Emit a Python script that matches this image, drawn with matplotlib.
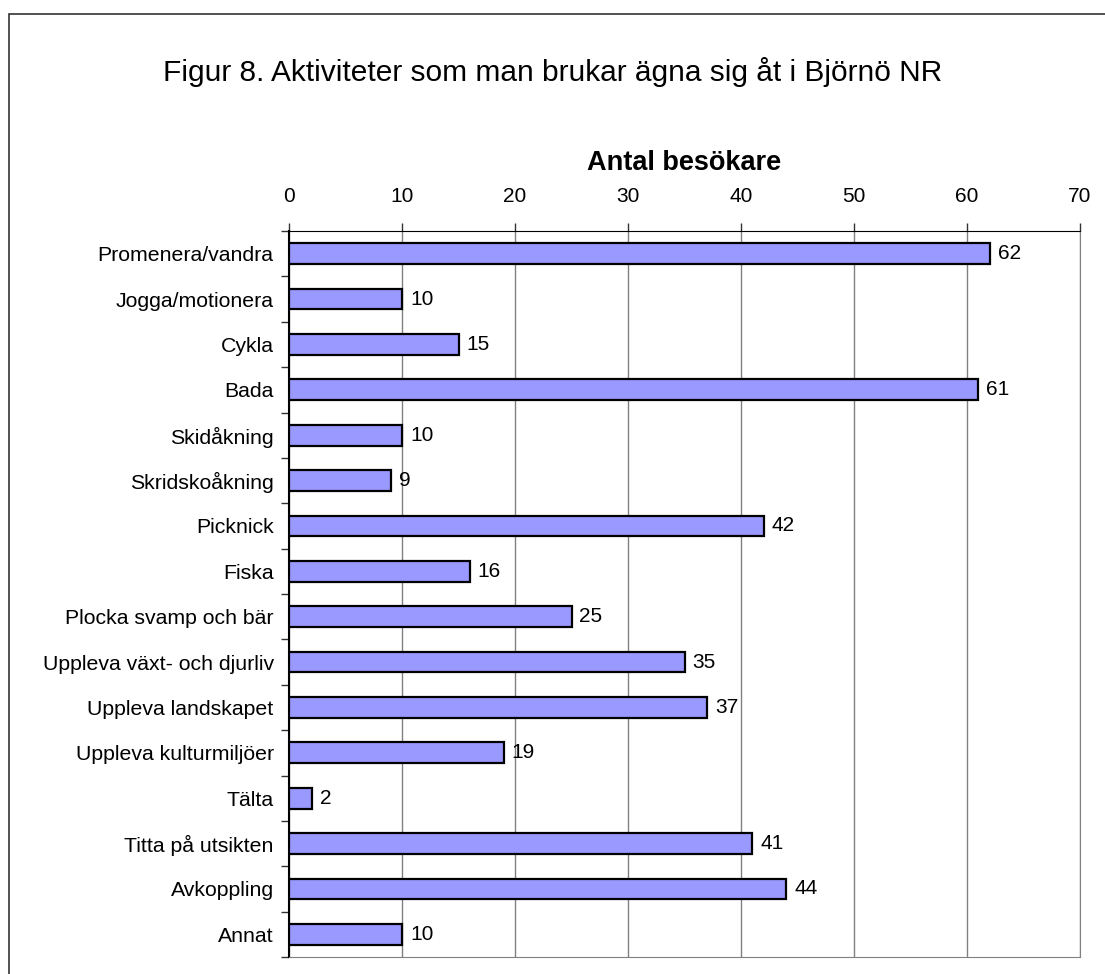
import matplotlib
matplotlib.use("Agg")
import matplotlib.pyplot as plt
from matplotlib.patches import Rectangle
import numpy as np

plt.rcParams["font.family"] = ["Liberation Sans", "DejaVu Sans"]

ACTIVITIES = ["Promenera/vandra", "Jogga/motionera", "Cykla", "Bada", "Skidåkning",
              "Skridskoåkning", "Picknick", "Fiska", "Plocka svamp och bär",
              "Uppleva växt- och djurliv", "Uppleva landskapet", "Uppleva kulturmiljöer",
              "Tälta", "Titta på utsikten", "Avkoppling", "Annat"]
VISITORS = [62, 10, 15, 61, 10, 9, 42, 16, 25, 35, 37, 19, 2, 41, 44, 10]
X_TICKS = [0, 10, 20, 30, 40, 50, 60, 70]

W, H = 1105, 974
fig = plt.figure(figsize=(W / 100, H / 100), dpi=100)
fig.patches.append(Rectangle((9 / W, -0.1), 1.2, 1 - 14 / H + 0.1, transform=fig.transFigure,
                             fill=False, edgecolor="#333333", linewidth=1.2))

ax = fig.add_axes([289 / W, 1 - 957 / H, (1080 - 289) / W, (957 - 231) / H])
y = np.arange(len(ACTIVITIES))
ax.barh(y, VISITORS, height=0.46, color="#9999ff", edgecolor="black", linewidth=1.6, zorder=3)
for yi, v in zip(y, VISITORS):
    ax.text(v + 0.7, yi, str(v), va="center", ha="left", fontsize=15)

ax.set_xlim(0, 70)
ax.set_ylim(len(ACTIVITIES) - 0.5, -0.5)
ax.set_xticks(X_TICKS)
ax.xaxis.tick_top()
ax.xaxis.set_label_position("top")
ax.tick_params(axis="x", direction="out", length=6, width=1, color="#333333",
               labelsize=15, pad=12)
ax.set_xlabel("Antal besökare", fontsize=19.5, fontweight="bold", labelpad=12)

ax.set_yticks(y)
ax.set_yticklabels(ACTIVITIES, fontsize=15.3)
ax.tick_params(axis="y", length=0, pad=11)
ax.set_yticks(np.arange(len(ACTIVITIES) + 1) - 0.5, minor=True)
ax.tick_params(axis="y", which="minor", direction="out", length=6, width=1, color="#333333")

ax.grid(axis="x", color="#808080", linewidth=1, zorder=0)
ax.spines["top"].set_color("black")
ax.spines["left"].set_color("black")
ax.spines["left"].set_linewidth(1.5)
ax.spines["bottom"].set_color("#808080")
ax.spines["right"].set_color("#808080")

fig.text(0.5 * (1 + 9 / W) - 0.004, 1 - 72 / H, "Figur 8. Aktiviteter som man brukar ägna sig åt i Björnö NR",
         ha="center", va="center", fontsize=21.5)

fig.savefig("out.png", dpi=100)
plt.close(fig)
